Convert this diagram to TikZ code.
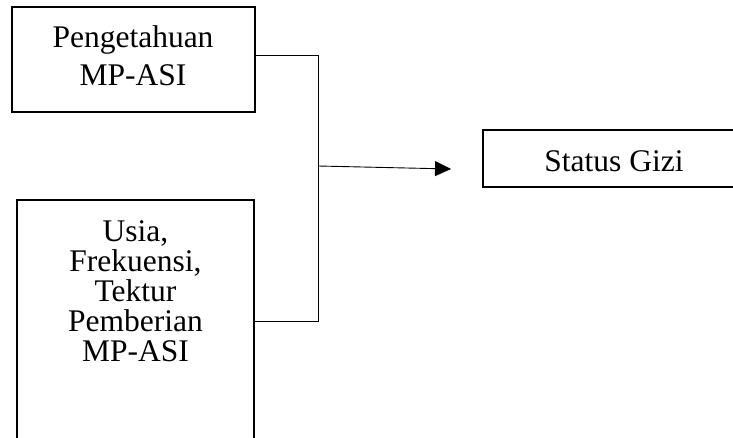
\documentclass[tikz,border=0pt]{standalone}
\usepackage{fontspec}
\setmainfont{Liberation Serif}
\usetikzlibrary{arrows.meta}
\tikzset{kotak/.style={draw, line width=1.6pt, inner sep=0pt},
  teks/.style={align=center, inner sep=0pt, font=\fontsize{31.5}{38}\selectfont},
  garis/.style={line width=0.9pt}}
\begin{document}
\begin{tikzpicture}[x=1pt,y=-1pt]
      \useasboundingbox (0,0) rectangle (733,438);
      \clip (0,0) rectangle (733,438);
      \node[kotak, minimum width=243pt, minimum height=105pt] (pengetahuan) at (133.5,59.5) {};
      \node[teks] (pengetahuanteks) at (133,55.3) {Pengetahuan\\MP-ASI};
      \node[kotak, minimum width=237pt, minimum height=300pt] (pemberian) at (135.5,350) {};
      \node[teks, font=\fontsize{31.5}{30}\selectfont] (pemberianteks) at (135.5,291.3) {Usia,\\Frekuensi,\\Tektur\\Pemberian\\MP-ASI};
      \node[kotak, minimum width=262pt, minimum height=57pt] (status) at (614,158.5) {};
      \node[teks] (statusteks) at (614,161) {Status Gizi};
      \coordinate (atas) at (318,55);
      \coordinate (bawah) at (318,321);
      \draw[garis] (pengetahuan.east |- atas) -- (atas) -- (bawah) -- (pemberian.east |- bawah);
      \coordinate (pangkal) at (318,166);
      \coordinate (ujung) at (451,169);
      \draw[garis, -{Triangle[length=16pt,width=15pt]}] (pangkal) -- (ujung);
    \end{tikzpicture}
\end{document}
